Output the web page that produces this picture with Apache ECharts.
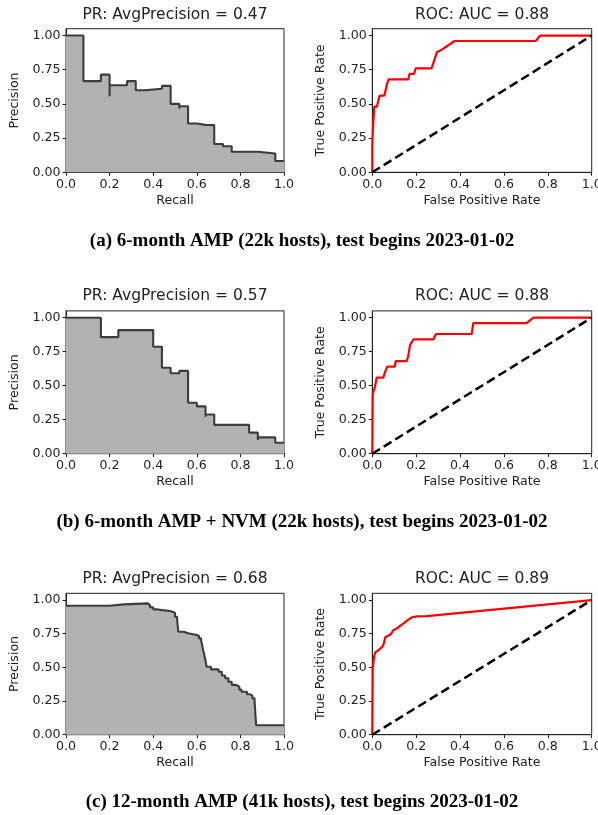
<!DOCTYPE html>
<html><head><meta charset="utf-8">
<script src="https://cdn.jsdelivr.net/npm/echarts@6/dist/echarts.min.js"></script>
<style>html,body{margin:0;padding:0;background:#fff}#c{width:598px;height:815px}</style>
</head><body><div id="c"></div>
<script>
// ---------- data ----------
const xTicks = [0, 0.2, 0.4, 0.6, 0.8, 1.0];
const yTicks = [0, 0.25, 0.5, 0.75, 1.0];

const prTitles = ['PR: AvgPrecision = 0.47', 'PR: AvgPrecision = 0.57', 'PR: AvgPrecision = 0.68'];
const rocTitles = ['ROC: AUC = 0.88', 'ROC: AUC = 0.88', 'ROC: AUC = 0.89'];
const captions = [
  '(a) 6-month AMP (22k hosts), test begins 2023-01-02',
  '(b) 6-month AMP + NVM (22k hosts), test begins 2023-01-02',
  '(c) 12-month AMP (41k hosts), test begins 2023-01-02'
];

// PR curves: precision holds from recall[i] to recall[i+1]
const prA_recall    = [0, 0.08, 0.16, 0.20, 0.20, 0.28, 0.32, 0.36, 0.44, 0.48, 0.52, 0.52, 0.56, 0.60, 0.64, 0.64, 0.68, 0.72, 0.76, 0.88, 0.96, 1.0];
const prA_precision = [1.0, 0.667, 0.714, 0.556, 0.636, 0.667, 0.600, 0.611, 0.632, 0.500, 0.464, 0.483, 0.357, 0.347, 0.333, 0.345, 0.207, 0.190, 0.150, 0.138, 0.083, 0.083];

const prB_recall    = [0, 0.16, 0.24, 0.40, 0.44, 0.48, 0.52, 0.56, 0.60, 0.64, 0.64, 0.68, 0.84, 0.88, 0.88, 0.96, 1.0];
const prB_precision = [1.0, 0.857, 0.909, 0.786, 0.632, 0.591, 0.609, 0.375, 0.348, 0.271, 0.288, 0.212, 0.155, 0.100, 0.120, 0.080, 0.080];

const prC_recall    = [0, 0.20, 0.265, 0.375, 0.385, 0.40, 0.415, 0.44, 0.47, 0.49, 0.50, 0.51, 0.515, 0.54, 0.56, 0.60, 0.61, 0.62, 0.625, 0.63, 0.635, 0.64, 0.645, 0.665, 0.70, 0.715, 0.73, 0.745, 0.76, 0.78, 0.795, 0.805, 0.83, 0.845, 0.855, 0.865, 0.872, 1.0];
const prC_precision = [0.958, 0.968, 0.975, 0.963, 0.946, 0.931, 0.925, 0.921, 0.913, 0.905, 0.876, 0.850, 0.765, 0.753, 0.740, 0.733, 0.715, 0.700, 0.660, 0.620, 0.590, 0.550, 0.505, 0.485, 0.468, 0.440, 0.419, 0.393, 0.370, 0.356, 0.335, 0.319, 0.300, 0.290, 0.270, 0.250, 0.070, 0.070];

// ROC curves
const rocA_fpr = [0, 0, 0.003, 0.006, 0.009, 0.021, 0.027, 0.033, 0.055, 0.066, 0.074, 0.164, 0.17, 0.19, 0.198, 0.27, 0.295, 0.31, 0.375, 0.745, 0.765, 1.0];
const rocA_tpr = [0, 0.20, 0.32, 0.40, 0.48, 0.48, 0.52, 0.56, 0.56, 0.64, 0.68, 0.68, 0.72, 0.72, 0.76, 0.76, 0.88, 0.89, 0.96, 0.96, 1.0, 1.0];

const rocB_fpr = [0, 0.002, 0.008, 0.012, 0.02, 0.05, 0.058, 0.068, 0.103, 0.106, 0.157, 0.164, 0.172, 0.187, 0.278, 0.29, 0.453, 0.46, 0.703, 0.734, 1.0];
const rocB_tpr = [0, 0.44, 0.47, 0.49, 0.56, 0.56, 0.60, 0.64, 0.64, 0.68, 0.68, 0.72, 0.80, 0.84, 0.84, 0.88, 0.88, 0.96, 0.96, 1.0, 1.0];

const rocC_fpr = [0, 0.002, 0.006, 0.009, 0.014, 0.029, 0.044, 0.052, 0.059, 0.074, 0.085, 0.097, 0.116, 0.128, 0.143, 0.158, 0.181, 0.204, 0.249, 1.0];
const rocC_tpr = [0, 0.50, 0.514, 0.588, 0.612, 0.63, 0.65, 0.674, 0.723, 0.736, 0.748, 0.778, 0.793, 0.81, 0.827, 0.847, 0.872, 0.879, 0.88, 1.0];

const diag_x = [0, 1];
const diag_y = [0, 1];

// ---------- layout ----------
const FONT = '"DejaVu Sans", sans-serif';
const TXT = '#222';
const rows = [
  {top: 28.7, height: 143.6, titleY: 15.4, capY: 241.5},
  {top: 310.9, height: 142.8, titleY: 296.4, capY: 522},
  {top: 593.3, height: 141.4, titleY: 579.2, capY: 802}
];
const cols = [{left: 66, width: 218}, {left: 372.3, width: 219.4}];

const prData = [[prA_recall, prA_precision], [prB_recall, prB_precision], [prC_recall, prC_precision]];
const rocData = [[rocA_fpr, rocA_tpr], [rocB_fpr, rocB_tpr], [rocC_fpr, rocC_tpr]];
const zip = (a, b) => a.map((v, i) => [v, b[i]]);

const grid = [], xAxis = [], yAxis = [], series = [], graphic = [];
rows.forEach((r, ri) => {
  cols.forEach((c, ci) => {
    const gi = ri * 2 + ci;
    grid.push({left: c.left, top: r.top, width: c.width, height: r.height, show: true,
      borderColor: '#222', borderWidth: 1, backgroundColor: 'transparent', outerBoundsMode: 'none', containLabel: false});
    xAxis.push({gridIndex: gi, type: 'value', min: 0, max: 1, interval: 0.2,
      name: ci === 0 ? 'Recall' : 'False Positive Rate', nameLocation: 'middle', nameGap: 22,
      nameTextStyle: {fontFamily: FONT, fontSize: 12.6, color: TXT},
      axisLine: {show: true, onZero: false, lineStyle: {color: '#222', width: 1}},
      axisTick: {show: true, length: 3.5, lineStyle: {color: '#222', width: 1}},
      axisLabel: {customValues: xTicks, formatter: v => v.toFixed(1), fontFamily: FONT, fontSize: 12.6, color: TXT, margin: 6},
      splitLine: {show: false}});
    yAxis.push({gridIndex: gi, type: 'value', min: 0, max: 1.05, interval: 0.25,
      name: ci === 0 ? 'Precision' : 'True Positive Rate', nameLocation: 'middle', nameGap: 45,
      nameTextStyle: {fontFamily: FONT, fontSize: 12.6, color: TXT},
      axisLine: {show: true, lineStyle: {color: '#222', width: 1}},
      axisTick: {show: true, length: 3.5, customValues: yTicks, lineStyle: {color: '#222', width: 1}},
      axisLabel: {customValues: yTicks, formatter: v => v.toFixed(2), fontFamily: FONT, fontSize: 12.6, color: TXT, margin: 5.5},
      splitLine: {show: false}});
    if (ci === 0) {
      series.push({type: 'line', xAxisIndex: gi, yAxisIndex: gi, step: 'end', showSymbol: false, symbol: 'none',
        data: zip(prData[ri][0], prData[ri][1]),
        lineStyle: {color: '#3c3c3c', width: 2.1}, areaStyle: {color: '#b2b2b2', opacity: 1}, z: 2});
    } else {
      series.push({type: 'line', xAxisIndex: gi, yAxisIndex: gi, showSymbol: false, symbol: 'none',
        data: zip(rocData[ri][0], rocData[ri][1]),
        lineStyle: {color: '#ff0000', width: 2.2}, z: 3});
      series.push({type: 'line', xAxisIndex: gi, yAxisIndex: gi, showSymbol: false, symbol: 'none',
        data: zip(diag_x, diag_y),
        lineStyle: {color: '#000', width: 2.5, type: [9, 4.5]}, z: 3});
    }
    graphic.push({type: 'text', x: c.left + c.width / 2, y: r.titleY,
      style: {text: ci === 0 ? prTitles[ri] : rocTitles[ri], fontFamily: FONT, fontSize: 15.5, fill: TXT, align: 'center', verticalAlign: 'middle'}});
  });
  graphic.push({type: 'text', x: 302, y: r.capY,
    style: {text: captions[ri], fontFamily: '"Liberation Serif", serif', fontWeight: 'bold', fontSize: 19, fill: '#000', align: 'center', verticalAlign: 'middle'}});
});

const chart = echarts.init(document.getElementById('c'), null, {renderer: 'canvas'});
chart.setOption({animation: false, backgroundColor: '#fff', grid, xAxis, yAxis, series, graphic});
</script>
</body></html>
